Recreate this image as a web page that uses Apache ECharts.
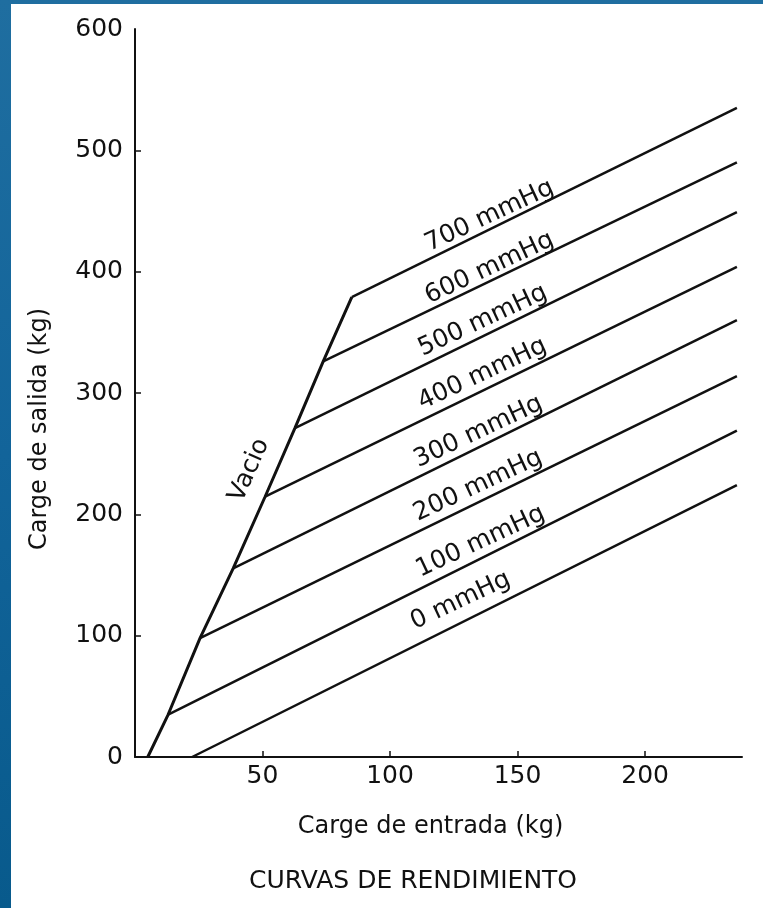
<!DOCTYPE html>
<html><head><meta charset="utf-8">
<script src="https://cdn.jsdelivr.net/npm/echarts@6/dist/echarts.min.js"></script>
<style>
html,body{margin:0;padding:0;width:763px;height:908px;overflow:hidden;
background:linear-gradient(180deg,#1f6ea0 0%,#12649a 50%,#085a8c 100%);}
#c{position:absolute;left:11px;top:4px;width:752px;height:904px;background:#fff;}
</style></head><body><div id="c"></div>
<script>
// ---- data ----
const pressureNames = ['0 mmHg','100 mmHg','200 mmHg','300 mmHg','400 mmHg','500 mmHg','600 mmHg','700 mmHg'];
const startX = [22.4, 13, 25.5, 38.5, 51, 62.7, 73.8, 85];
const startY = [0, 35, 98, 155.5, 214.5, 271, 326, 379];
const endX   = [236, 236, 236, 236, 236, 236, 236, 236];
const endY   = [224, 269, 314, 360, 404, 449, 490, 535];
const vacioX = [5, 13, 25.5, 38.5, 51, 62.7, 73.8, 85];
const vacioY = [0, 35, 98, 155.5, 214.5, 271, 326, 379];
const xTickValues = [50, 100, 150, 200];
const yLabelValues = [0, 100, 200, 300, 400, 500, 600];
const yTickValues = [100, 200, 300, 400, 500];

// ---- layout constants for labels ----
const labelAtX = [131, 138, 137, 137, 138.7, 138.7, 141, 141];
const labelLift = [20, 15, 15, 14, 15, 14, 12, 12];
const vacioLabelY = 228;

const FONT = 'DejaVu Sans';
const INK = '#111';

function yOnLine(i, x) {
  return startY[i] + (endY[i] - startY[i]) * (x - startX[i]) / (endX[i] - startX[i]);
}
function xOnVacio(y) {
  for (let k = 0; k < vacioY.length - 1; k++) {
    if (y >= vacioY[k] && y <= vacioY[k + 1]) {
      return vacioX[k] + (vacioX[k + 1] - vacioX[k]) * (y - vacioY[k]) / (vacioY[k + 1] - vacioY[k]);
    }
  }
  return vacioX[vacioX.length - 1];
}

const series = [];
series.push({
  type: 'line', name: 'Vacio', symbol: 'none', silent: true,
  data: vacioX.map((x, i) => [x, vacioY[i]]),
  lineStyle: { color: INK, width: 3 }
});
pressureNames.forEach((n, i) => {
  series.push({
    type: 'line', name: n, symbol: 'none', silent: true,
    data: [[startX[i], startY[i]], [endX[i], endY[i]]],
    lineStyle: { color: INK, width: 2.5 }
  });
});
series.push({
  type: 'scatter', symbolSize: 0, silent: true,
  itemStyle: { opacity: 1, color: INK },
  data: pressureNames.map((n, i) => ({
    name: n,
    value: [labelAtX[i], yOnLine(i, labelAtX[i])],
    label: { offset: [0, -labelLift[i]] }
  })).concat([{
    name: 'Vacio',
    value: [xOnVacio(vacioLabelY), vacioLabelY],
    label: { rotate: 66, offset: [0, -25] }
  }]),
  label: {
    show: true, position: 'inside', formatter: '{b}', rotate: 25, opacity: 1,
    color: INK, fontFamily: FONT, fontSize: 25, align: 'center', verticalAlign: 'middle'
  }
});

const chart = echarts.init(document.getElementById('c'), null, { renderer: 'canvas' });
chart.setOption({
  animation: false,
  backgroundColor: '#fff',
  grid: { left: 124, top: 25, right: 21, bottom: 151 },
  xAxis: {
    type: 'value', min: 0, max: 238, interval: 50,
    name: 'Carge de entrada (kg)', nameLocation: 'middle', nameGap: 58,
    nameTextStyle: { color: INK, fontFamily: FONT, fontSize: 24, padding: [0, 16, 0, 0] },
    axisLine: { show: true, lineStyle: { color: INK, width: 2 } },
    axisTick: { show: true, inside: true, length: 6, customValues: xTickValues, lineStyle: { color: INK, width: 1.5 } },
    axisLabel: { color: INK, fontFamily: FONT, fontSize: 25, margin: 7, customValues: xTickValues },
    splitLine: { show: false }
  },
  yAxis: {
    type: 'value', min: 0, max: 600, interval: 100,
    name: 'Carge de salida (kg)', nameLocation: 'middle', nameGap: 83,
    nameTextStyle: { color: INK, fontFamily: FONT, fontSize: 24, padding: [0, 72, 0, 0] },
    axisLine: { show: true, lineStyle: { color: INK, width: 2 } },
    axisTick: { show: true, inside: true, length: 6, customValues: yTickValues, lineStyle: { color: INK, width: 1.5 } },
    axisLabel: { color: INK, fontFamily: FONT, fontSize: 25, margin: 12, customValues: yLabelValues },
    splitLine: { show: false }
  },
  graphic: [{
    type: 'text', x: 402, y: 877,
    style: { text: 'CURVAS DE RENDIMIENTO', fill: INK, font: '25px "DejaVu Sans"', align: 'center', verticalAlign: 'middle' }
  }],
  series: series
});
</script></body></html>
